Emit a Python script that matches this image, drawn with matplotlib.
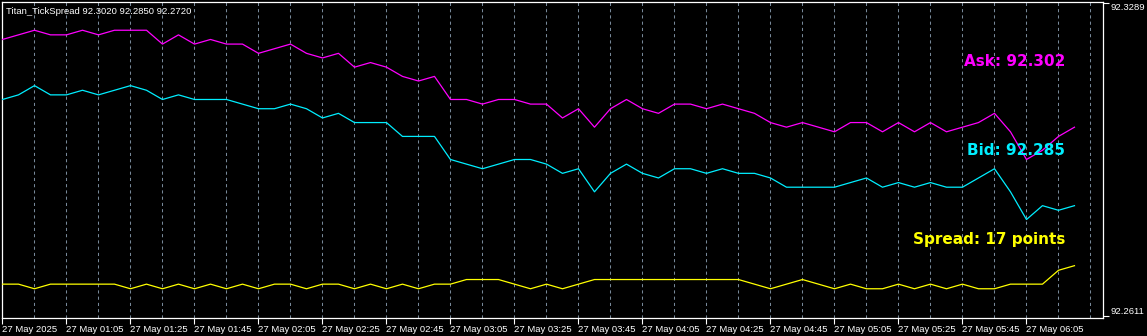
import numpy as np
import matplotlib
matplotlib.use("Agg")
import matplotlib.pyplot as plt

# M5 bars, 27 May 2025 00:45 .. 06:20
ask = [92.321, 92.322, 92.323, 92.322, 92.322, 92.323, 92.322, 92.323, 92.323, 92.323,
       92.320, 92.322, 92.320, 92.321, 92.320, 92.320, 92.318, 92.319, 92.320, 92.318,
       92.317, 92.318, 92.315, 92.316, 92.315, 92.313, 92.312, 92.313, 92.308, 92.308,
       92.307, 92.308, 92.308, 92.307, 92.307, 92.304, 92.306, 92.302, 92.306, 92.308,
       92.306, 92.305, 92.307, 92.307, 92.306, 92.307, 92.306, 92.305, 92.303, 92.302,
       92.303, 92.302, 92.301, 92.303, 92.303, 92.301, 92.303, 92.301, 92.303, 92.301,
       92.302, 92.303, 92.305, 92.301, 92.295, 92.297, 92.300, 92.302]
bid = [92.308, 92.309, 92.311, 92.309, 92.309, 92.310, 92.309, 92.310, 92.311, 92.310,
       92.308, 92.309, 92.308, 92.308, 92.308, 92.307, 92.306, 92.306, 92.307, 92.306,
       92.304, 92.305, 92.303, 92.303, 92.303, 92.300, 92.300, 92.300, 92.295, 92.294,
       92.293, 92.294, 92.295, 92.295, 92.294, 92.292, 92.293, 92.288, 92.292, 92.294,
       92.292, 92.291, 92.293, 92.293, 92.292, 92.293, 92.292, 92.292, 92.291, 92.289,
       92.289, 92.289, 92.289, 92.290, 92.291, 92.289, 92.290, 92.289, 92.290, 92.289,
       92.289, 92.291, 92.293, 92.288, 92.282, 92.285, 92.284, 92.285]
# spread in points
spread = [13, 13, 12, 13, 13, 13, 13, 13, 12, 13,
          12, 13, 12, 13, 12, 13, 12, 13, 13, 12,
          13, 13, 12, 13, 12, 13, 12, 13, 13, 14,
          14, 14, 13, 12, 13, 12, 13, 14, 14, 14,
          14, 14, 14, 14, 14, 14, 14, 13, 12, 13,
          14, 13, 12, 13, 12, 12, 13, 12, 13, 12,
          13, 12, 12, 13, 13, 13, 16, 17]
spread_base = 92.255
point = 0.001

time_labels = ["27 May 2025", "27 May 01:05", "27 May 01:25", "27 May 01:45",
               "27 May 02:05", "27 May 02:25", "27 May 02:45", "27 May 03:05",
               "27 May 03:25", "27 May 03:45", "27 May 04:05", "27 May 04:25",
               "27 May 04:45", "27 May 05:05", "27 May 05:25", "27 May 05:45",
               "27 May 06:05"]
price_labels = [92.2611, 92.3289]

W, H = 1147, 336
fig = plt.figure(figsize=(W / 100, H / 100), dpi=100, facecolor="black")
ax = fig.add_axes([2 / W, 18.5 / H, 1101 / W, 315.5 / H], facecolor="black")

x = np.arange(len(ask))
spread_line = [spread_base + s * point for s in spread]

# vertical dotted grid every 2 bars
for gx in range(2, len(ask) + 2, 2):
    ax.axvline(gx, color="#778899", lw=0.75, dashes=(3, 3), zorder=1)

ax.plot(x, ask, color="#FF00FF", lw=0.9, zorder=3)
ax.plot(x, bid, color="#00EEFF", lw=0.9, zorder=3)
ax.plot(x, spread_line, color="#FFFF00", lw=0.9, zorder=3)

k = 0.0678 / 313
ax.set_xlim(-0.03, 1101 / 16 - 0.03)
ax.set_ylim(92.2611 - 1.5 * k, 92.3289 + 1 * k)

for s in ax.spines.values():
    s.set_color("white")
    s.set_linewidth(0.9)

small = dict(family="Liberation Sans", size=6.8)

ax.set_xticks(x[::4])
ax.set_xticklabels(time_labels, color="white", ha="left", **small)
ax.tick_params(axis="x", colors="white", length=4, width=0.8, pad=1.5)

ax.yaxis.tick_right()
ax.set_yticks(price_labels)
ax.set_yticklabels([f"{p:.4f}" for p in price_labels], color="white", **small)
ax.tick_params(axis="y", colors="white", length=4, width=0.8, pad=1.5)
ylab = ax.get_yticklabels()
ylab[0].set_va("bottom")
ylab[1].set_va("top")

ax.text(0.004, 0.985, f"Titan_TickSpread {ask[-1]:.4f} {bid[-1]:.4f} {spread_line[-1]:.4f}",
        transform=ax.transAxes, color="white", ha="left", va="top", **small)

big = dict(family="DejaVu Sans", weight="bold", size=11, ha="right", va="baseline",
           transform=ax.transAxes)
ax.text(0.9655, 0.797, f"Ask: {ask[-1]:.3f}", color="#FF00FF", **big)
ax.text(0.9655, 0.5135, f"Bid: {bid[-1]:.3f}", color="#00EEFF", **big)
ax.text(0.9655, 0.233, f"Spread: {spread[-1]} points", color="#FFFF00", **big)

fig.savefig("out.png", dpi=100, facecolor="black")
